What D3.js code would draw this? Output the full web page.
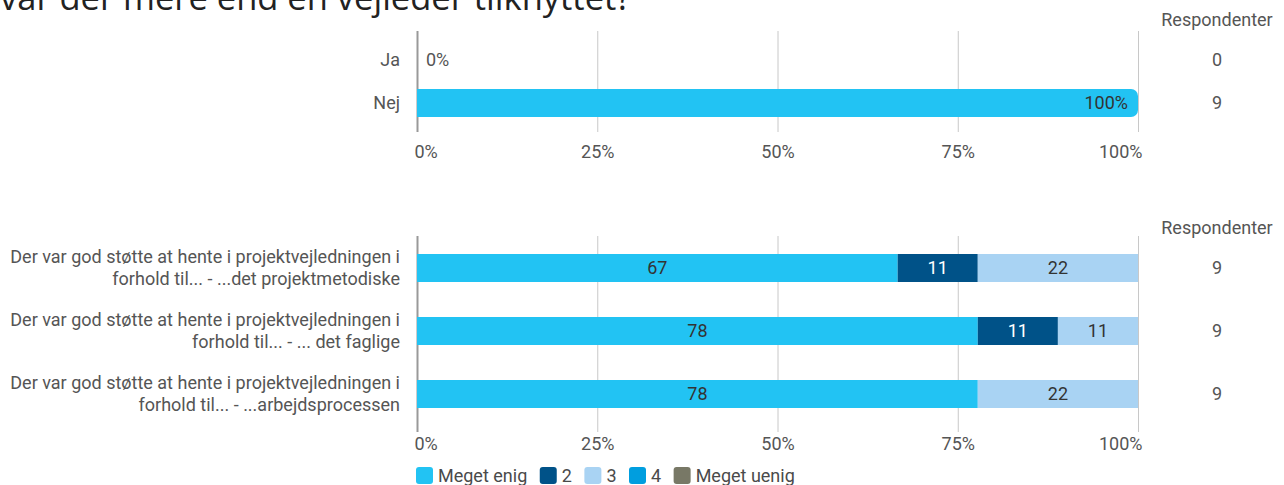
<!DOCTYPE html>
<html><head><meta charset="utf-8">
<script src="https://cdn.jsdelivr.net/npm/d3@7"></script>
<style>
body{margin:0;background:#fff;}
svg{display:block;font-family:Roboto,"Open Sans",sans-serif;}
</style></head>
<body><svg id="c" width="1284" height="485"></svg>
<script>
const titleText = "var der mere end én vejleder tilknyttet?";
const xTicks = [0, 25, 50, 75, 100];
const tickLabels = ["0%", "25%", "50%", "75%", "100%"];

// Chart 1
const cat1 = ["Ja", "Nej"];
const pct1 = [0, 100];
const resp1 = [0, 9];

// Chart 2
const cat2 = [
  ["Der var god støtte at hente i projektvejledningen i", "forhold til... - ...det projektmetodiske"],
  ["Der var god støtte at hente i projektvejledningen i", "forhold til... - ... det faglige"],
  ["Der var god støtte at hente i projektvejledningen i", "forhold til... - ...arbejdsprocessen"]
];
const seriesNames = ["Meget enig", "2", "3", "4", "Meget uenig"];
const seriesColors = ["#22c3f3", "#005288", "#a9d3f3", "#009edf", "#787866"];
const counts2 = [ // respondents per answer
  [6, 1, 2, 0, 0],
  [7, 1, 1, 0, 0],
  [7, 0, 2, 0, 0]
];
const resp2 = [9, 9, 9];

const FS = 18;
const svg = d3.select("#c");
const x = d3.scaleLinear().domain([0, 100]).range([417, 1138]);

svg.append("text").attr("x", 0).attr("y", 10).attr("font-family", "'Open Sans',sans-serif")
  .attr("font-size", 34.5).attr("fill", "#222").text(titleText);

function grid(top, bottom, labelY) {
  const g = svg.append("g").attr("transform", `translate(0,${bottom})`);
  const ax = d3.axisBottom(x).tickValues(xTicks).tickSize(-(bottom - top)).tickFormat((d, i) => tickLabels[i]);
  g.call(ax);
  g.select(".domain").remove();
  g.selectAll(".tick line").attr("stroke", d => d === 0 ? "#999" : "#c8c8c8").attr("stroke-width", d => d === 0 ? 2 : 1);
  g.selectAll(".tick text").attr("font-size", FS).attr("fill", "#555").attr("font-family", "Roboto")
    .attr("y", labelY - bottom).attr("dy", "0.35em")
    .attr("text-anchor", d => d === 0 ? "start" : d === 100 ? "end" : "middle")
    .attr("dx", d => d === 0 ? -3 : d === 100 ? 4 : 0);
}

// chart 1
grid(31, 132, 152);
const y1 = d3.scalePoint().domain(cat1).range([60, 103]);
svg.append("text").attr("x", 1217).attr("y", 20).attr("dy", "0.35em").attr("text-anchor", "middle")
  .attr("font-size", FS).attr("fill", "#555").text("Respondenter");
cat1.forEach((c, i) => {
  const cy = y1(c);
  svg.append("text").attr("x", 400).attr("y", cy).attr("dy", "0.35em").attr("text-anchor", "end")
    .attr("font-size", FS).attr("fill", "#555").text(c);
  svg.append("text").attr("x", 1217).attr("y", cy).attr("dy", "0.35em").attr("text-anchor", "middle")
    .attr("font-size", FS).attr("fill", "#555").text(resp1[i]);
  const h = 28, r = 7;
  const x0 = x(0), x1 = x(pct1[i]);
  if (pct1[i] > 0) {
    const p = d3.path();
    p.moveTo(x0, cy - h / 2); p.lineTo(x1 - r, cy - h / 2);
    p.arcTo(x1, cy - h / 2, x1, cy - h / 2 + r, r);
    p.lineTo(x1, cy + h / 2 - r);
    p.arcTo(x1, cy + h / 2, x1 - r, cy + h / 2, r);
    p.lineTo(x0, cy + h / 2); p.closePath();
    svg.append("path").attr("d", p.toString()).attr("fill", seriesColors[0]);
    svg.append("text").attr("x", x1 - 10).attr("y", cy).attr("dy", "0.35em").attr("text-anchor", "end")
      .attr("font-size", FS).attr("fill", "#333").text(pct1[i] + "%");
  } else {
    svg.append("text").attr("x", x0 + 9).attr("y", cy).attr("dy", "0.35em").attr("text-anchor", "start")
      .attr("font-size", FS).attr("fill", "#555").text(pct1[i] + "%");
  }
});

// chart 2
const y2 = d3.scalePoint().domain(d3.range(cat2.length)).range([268, 394]);
const bars2 = svg.append("g");
svg.append("text").attr("x", 1217).attr("y", 228).attr("dy", "0.35em").attr("text-anchor", "middle")
  .attr("font-size", FS).attr("fill", "#555").text("Respondenter");
counts2.forEach((row, i) => {
  const cy = y2(i), h = 28, total = resp2[i];
  let acc = 0;
  row.forEach((v, j) => {
    if (v === 0) return;
    const p0 = acc / total * 100, p1 = (acc + v) / total * 100;
    acc += v;
    bars2.append("rect").attr("x", x(p0)).attr("y", cy - h / 2).attr("width", x(p1) - x(p0)).attr("height", h)
      .attr("fill", seriesColors[j]);
    bars2.append("text").attr("x", (x(p0) + x(p1)) / 2).attr("y", cy).attr("dy", "0.35em").attr("text-anchor", "middle")
      .attr("font-size", FS).attr("fill", (j === 1 || j === 3 || j === 4) ? "#fff" : "#333")
      .text(Math.round(v / total * 100));
  });
  const t = svg.append("text").attr("text-anchor", "end").attr("font-size", FS).attr("fill", "#555");
  cat2[i].forEach((line, k) => {
    t.append("tspan").attr("x", 400).attr("y", cy - 11 + k * 22).attr("dy", "0.35em").text(line);
  });
  svg.append("text").attr("x", 1217).attr("y", cy).attr("dy", "0.35em").attr("text-anchor", "middle")
    .attr("font-size", FS).attr("fill", "#555").text(resp2[i]);
});
grid(236, 432, 444);
bars2.raise();
svg.selectAll(".tick line").filter(d => d === 0).raise();

// legend
const leg = svg.append("g");
let lx = 416;
seriesNames.forEach((n, j) => {
  leg.append("rect").attr("x", lx).attr("y", 467).attr("width", 17).attr("height", 17).attr("rx", 3)
    .attr("fill", seriesColors[j]);
  const t = leg.append("text").attr("x", lx + 22).attr("y", 475.5).attr("dy", "0.35em")
    .attr("font-size", FS).attr("fill", "#4a4a4a").text(n);
  lx = lx + 22 + t.node().getComputedTextLength() + 12.5;
});
</script></body></html>
